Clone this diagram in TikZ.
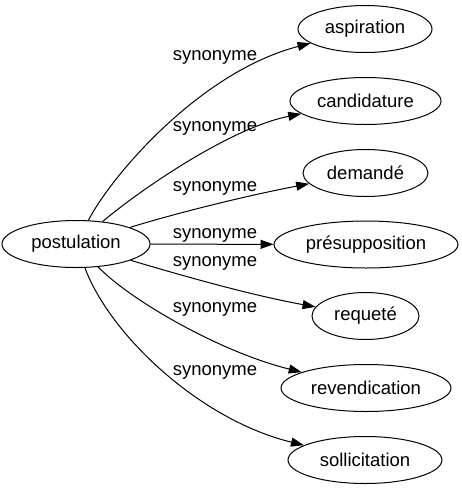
\documentclass[tikz,border=0pt]{standalone}
\usepackage{fontspec}
\setmainfont{Liberation Sans}
\usetikzlibrary{shapes.geometric,arrows.meta}
\begin{document}
\begin{tikzpicture}[x=1pt,y=-1pt,
  word/.style={draw,ellipse,line width=1pt,inner sep=0pt,minimum height=47pt,font=\fontsize{18.5}{20}\selectfont},
  syn/.style={line width=1pt,-{Triangle[length=13pt,width=9pt]}},
  lab/.style={font=\fontsize{18.5}{20}\selectfont,inner sep=0pt}]
\useasboundingbox (0,0) rectangle (462,491);
\node[word,minimum width=148pt] (post) at (76,244) {postulation};
\node[word,minimum width=134pt] (asp) at (365,29) {aspiration};
\node[word,minimum width=151pt] (cand) at (365.5,101) {candidature};
\node[word,minimum width=125pt] (dem) at (365.5,173) {demandé};
\node[word,minimum width=184pt] (pres) at (366,244.5) {présupposition};
\node[word,minimum width=107pt] (req) at (365.5,316) {requeté};
\node[word,minimum width=170pt] (rev) at (366,388) {revendication};
\node[word,minimum width=154pt] (sol) at (365,460) {sollicitation};
\draw[syn] (post) .. controls (112,175) and (200,72) .. (asp);
\draw[syn] (post) .. controls (140,190) and (230,128) .. (cand);
\draw[syn] (post) .. controls (180,212) and (250,195) .. (dem);
\draw[syn] (post) -- (pres);
\draw[syn] (post) .. controls (180,275) and (250,295) .. (req);
\draw[syn] (post) .. controls (130,300) and (220,352) .. (rev);
\draw[syn] (post) .. controls (110,335) and (200,420) .. (sol);
\node[lab] (l1) at (215,57) {synonyme};
\node[lab] (l2) at (215,128) {synonyme};
\node[lab] (l3) at (215,188) {synonyme};
\node[lab] (l4) at (215,235) {synonyme};
\node[lab] (l5) at (215,263) {synonyme};
\node[lab] (l6) at (215,309) {synonyme};
\node[lab] (l7) at (215,372) {synonyme};
\end{tikzpicture}
\end{document}
